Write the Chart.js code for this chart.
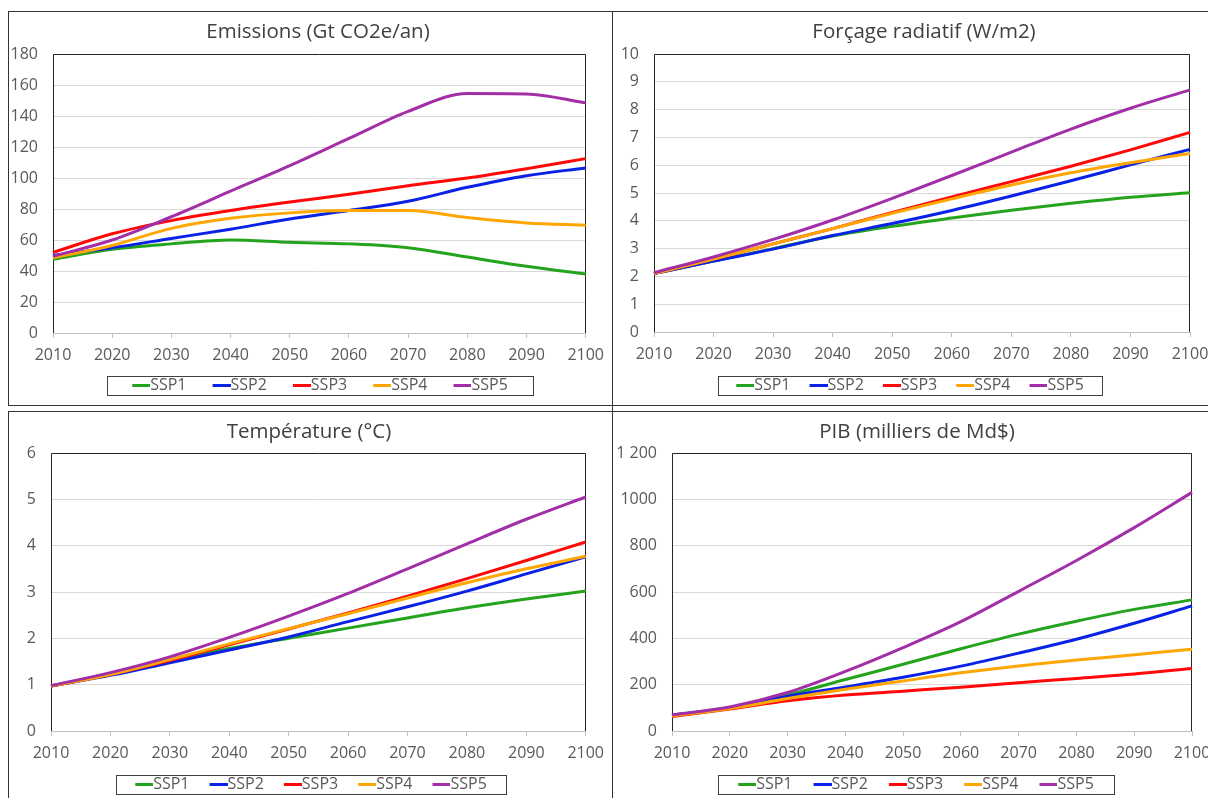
<!DOCTYPE html>
<html lang="fr">
<head>
<meta charset="utf-8">
<title>Scénarios SSP</title>
<script src="https://cdn.jsdelivr.net/npm/chart.js@4.4.1/dist/chart.umd.min.js"></script>
<style>
  html, body { margin: 0; padding: 0; background: #fff; }
  body { width: 1208px; height: 798px; overflow: hidden; position: relative; }
  .rule { position: absolute; background: #333; }
  canvas { position: absolute; }
</style>
</head>
<body>
<div class="rule" style="left:8px;top:11px;width:1200px;height:1px"></div>
<div class="rule" style="left:8px;top:405px;width:1200px;height:1px"></div>
<div class="rule" style="left:8px;top:411px;width:1200px;height:1px"></div>
<div class="rule" style="left:8px;top:11px;width:1px;height:395px"></div>
<div class="rule" style="left:8px;top:411px;width:1px;height:387px"></div>
<div class="rule" style="left:612px;top:11px;width:1px;height:787px"></div>

<canvas id="cEmissions" width="603" height="392" style="left:9px;top:12px"></canvas>
<canvas id="cForcage" width="610" height="392" style="left:614px;top:12px"></canvas>
<canvas id="cTemperature" width="603" height="392" style="left:9px;top:412px"></canvas>
<canvas id="cPib" width="610" height="392" style="left:614px;top:412px"></canvas>

<script>
// Années des scénarios
const years = ['2010', '2020', '2030', '2040', '2050', '2060', '2070', '2080', '2090', '2100'];
const seriesNames = ['SSP1', 'SSP2', 'SSP3', 'SSP4', 'SSP5'];
const seriesColors = ['#24a31d', '#0a22e6', '#ff0808', '#ffa602', '#a32fa8'];

// Emissions (Gt CO2e/an)
const emissionsSSP1 = [47.5, 54, 57.5, 60, 58.5, 57.5, 55, 49, 43, 38];
const emissionsSSP2 = [50, 55, 61, 67, 73.5, 79, 85, 94, 101.5, 106.5];
const emissionsSSP3 = [52, 64, 72.5, 79, 84.5, 89.5, 95, 100, 106, 112.5];
const emissionsSSP4 = [48.5, 56.5, 67.5, 74, 77.5, 79, 79, 74.5, 71, 69.5];
const emissionsSSP5 = [49.5, 60, 75, 91.5, 108, 125.5, 143, 154.5, 154.2, 148.5];

// Forçage radiatif (W/m2)
const forcageSSP1 = [2.1, 2.55, 3.0, 3.45, 3.8, 4.1, 4.38, 4.63, 4.85, 5.01];
const forcageSSP2 = [2.1, 2.55, 2.98, 3.47, 3.9, 4.37, 4.89, 5.44, 6.01, 6.57];
const forcageSSP3 = [2.1, 2.62, 3.17, 3.72, 4.3, 4.86, 5.41, 5.96, 6.55, 7.18];
const forcageSSP4 = [2.1, 2.62, 3.17, 3.72, 4.27, 4.79, 5.29, 5.73, 6.09, 6.42];
const forcageSSP5 = [2.13, 2.7, 3.33, 4.03, 4.81, 5.63, 6.47, 7.3, 8.05, 8.71];

// Température (°C)
const temperatureSSP1 = [0.97, 1.22, 1.5, 1.78, 2.0, 2.22, 2.44, 2.66, 2.85, 3.02];
const temperatureSSP2 = [0.97, 1.2, 1.47, 1.75, 2.03, 2.36, 2.68, 3.02, 3.39, 3.76];
const temperatureSSP3 = [0.97, 1.22, 1.52, 1.86, 2.2, 2.55, 2.91, 3.29, 3.68, 4.08];
const temperatureSSP4 = [0.97, 1.22, 1.54, 1.88, 2.21, 2.53, 2.87, 3.2, 3.5, 3.77];
const temperatureSSP5 = [0.98, 1.26, 1.6, 2.02, 2.48, 2.97, 3.5, 4.04, 4.57, 5.05];

// PIB (milliers de Md$)
const pibSSP1 = [68, 100, 155, 222, 288, 355, 418, 474, 525, 566];
const pibSSP2 = [68, 100, 150, 190, 232, 280, 336, 396, 465, 540];
const pibSSP3 = [62, 95, 130, 155, 172, 189, 208, 227, 246, 270];
const pibSSP4 = [65, 97, 140, 180, 216, 251, 281, 306, 329, 353];
const pibSSP5 = [70, 104, 166, 257, 360, 472, 603, 736, 878, 1030];

// Libellés des axes verticaux
const emissionsTicks = ['0', '20', '40', '60', '80', '100', '120', '140', '160', '180'];
const forcageTicks = ['0', '1', '2', '3', '4', '5', '6', '7', '8', '9', '10'];
const temperatureTicks = ['0', '1', '2', '3', '4', '5', '6'];
const pibTicks = ['0', '200', '400', '600', '800', '1000', '1 200'];

const FONT = "'Open Sans', 'Liberation Sans', sans-serif";
const TEXT = '#595959';
const TICK_SIZE = 16;
const TITLE_SIZE = 20.5;
const LEGEND_PAD = 10;

// Legend swatch: a short line that ends exactly where the label text begins.
// The swatch box is widened so the empty space before the line spaces the items.
function swatch(color, boxWidth) {
  const c = document.createElement('canvas');
  c.width = boxWidth + TICK_SIZE;
  c.height = 3;
  const g = c.getContext('2d');
  g.fillStyle = color;
  g.fillRect(c.width - 18, 0, 18, 3);
  return c;
}

// Moves a horizontal layout box so that its centre sits at x
function centreBox(box, x) {
  if (!box) return;
  const w = box.right - box.left;
  box.left = x - w / 2;
  box.right = box.left + w;
}

// Plot frame, title/legend placement and boxed legend
const framePlugin = {
  id: 'frame',
  afterLayout(chart, args, opts) {
    centreBox(chart.titleBlock, opts.titleX);
    centreBox(chart.legend, opts.legendX - (opts.gap - LEGEND_PAD) / 2);
  },
  beforeDatasetsDraw(chart) {
    const { ctx, chartArea: a } = chart;
    ctx.save();
    ctx.strokeStyle = '#262626';
    ctx.lineWidth = 1;
    ctx.beginPath();
    const l = Math.round(a.left) + 0.5, r = Math.round(a.right) - 0.5;
    const t = Math.round(a.top) + 0.5, b = Math.round(a.bottom);
    ctx.moveTo(l, b); ctx.lineTo(l, t); ctx.lineTo(r, t); ctx.lineTo(r, b);
    ctx.stroke();
    ctx.restore();
  },
  afterDraw(chart, args, opts) {
    const hb = chart.legend && chart.legend.legendHitBoxes;
    if (!hb || !hb.length) return;
    const first = hb[0], last = hb[hb.length - 1];
    const m = opts.gap - 1;
    const lineStart = first.left + opts.boxWidth + TICK_SIZE / 2 - 18;
    const x0 = Math.round(lineStart - m) + 0.5;
    const x1 = Math.round(last.left + last.width + m) + 0.5;
    const cy = first.top + first.height / 2;
    const y0 = Math.round(cy - 9.5) + 0.5, y1 = Math.round(cy + 9.5) + 0.5;
    const ctx = chart.ctx;
    ctx.save();
    ctx.strokeStyle = '#404040';
    ctx.lineWidth = 1;
    ctx.strokeRect(x0, y0, x1 - x0, y1 - y0);
    ctx.restore();
  }
};

function buildChart(id, p) {
  const H = 392;
  const legendHeight = TICK_SIZE + LEGEND_PAD + 10;
  const xAxisHeight = H - p.padBottom - legendHeight - p.plotBottom;
  const titleLine = TITLE_SIZE * 1.2;
  const titleTop = p.titleCentre - titleLine / 2;
  const boxWidth = p.gap - LEGEND_PAD + 18 - TICK_SIZE / 2;
  const datasets = p.series.map((values, i) => ({
    label: seriesNames[i],
    data: values,
    borderColor: seriesColors[i],
    backgroundColor: seriesColors[i],
    borderWidth: 3,
    pointRadius: 0,
    pointHoverRadius: 0,
    pointStyle: swatch(seriesColors[i], boxWidth),
    cubicInterpolationMode: 'monotone',
    fill: false,
    order: seriesNames.length - i
  }));
  return new Chart(document.getElementById(id), {
    type: 'line',
    data: { labels: years, datasets },
    plugins: [framePlugin],
    options: {
      responsive: false,
      animation: false,
      events: [],
      layout: { padding: { left: 0, top: 0, right: p.padRight, bottom: p.padBottom } },
      plugins: {
        title: {
          display: true,
          text: p.title,
          color: '#404040',
          font: { family: FONT, size: TITLE_SIZE, weight: 'normal', lineHeight: 1.2 },
          padding: { top: titleTop, bottom: p.plotTop - titleTop - titleLine }
        },
        legend: {
          display: true,
          position: 'bottom',
          fullSize: false,
          labels: {
            usePointStyle: true,
            pointStyleWidth: boxWidth,
            padding: LEGEND_PAD,
            color: TEXT,
            font: { family: FONT, size: TICK_SIZE },
            sort: (a, b) => a.datasetIndex - b.datasetIndex
          }
        },
        tooltip: { enabled: false },
        frame: { titleX: p.titleX, legendX: p.legendX, gap: p.gap, boxWidth }
      },
      scales: {
        x: {
          type: 'category',
          offset: false,
          grid: { drawOnChartArea: false, drawTicks: true, tickLength: 5, color: '#bfbfbf' },
          border: { display: true, color: '#bfbfbf', width: 1 },
          ticks: { color: TEXT, font: { family: FONT, size: TICK_SIZE }, padding: 8, maxRotation: 0, autoSkip: false },
          afterFit: (s) => { s.height = xAxisHeight; }
        },
        y: {
          min: 0,
          max: p.max,
          grid: { color: '#d9d9d9', drawTicks: false, lineWidth: 1 },
          border: { display: false },
          ticks: {
            stepSize: p.step,
            color: TEXT,
            font: { family: FONT, size: TICK_SIZE },
            padding: 15,
            callback: (v, i) => p.tickLabels[i]
          },
          afterFit: (s) => { s.width = p.plotLeft; }
        }
      }
    }
  });
}

buildChart('cEmissions', {
  title: 'Emissions (Gt CO2e/an)',
  series: [emissionsSSP1, emissionsSSP2, emissionsSSP3, emissionsSSP4, emissionsSSP5],
  tickLabels: emissionsTicks, max: 180, step: 20,
  plotLeft: 44, padRight: 25, plotTop: 42, titleCentre: 20.5, plotBottom: 321,
  padBottom: 1, gap: 26, legendX: 311, titleX: 309
});
buildChart('cForcage', {
  title: 'Forçage radiatif (W/m2)',
  series: [forcageSSP1, forcageSSP2, forcageSSP3, forcageSSP4, forcageSSP5],
  tickLabels: forcageTicks, max: 10, step: 1,
  plotLeft: 40, padRight: 34, plotTop: 42, titleCentre: 20.5, plotBottom: 320,
  padBottom: 1, gap: 19, legendX: 296, titleX: 310
});
buildChart('cTemperature', {
  title: 'Température (°C)',
  series: [temperatureSSP1, temperatureSSP2, temperatureSSP3, temperatureSSP4, temperatureSSP5],
  tickLabels: temperatureTicks, max: 6, step: 1,
  plotLeft: 42, padRight: 26, plotTop: 41, titleCentre: 20, plotBottom: 319,
  padBottom: 2, gap: 20, legendX: 302, titleX: 300
});
buildChart('cPib', {
  title: 'PIB (milliers de Md$)',
  series: [pibSSP1, pibSSP2, pibSSP3, pibSSP4, pibSSP5],
  tickLabels: pibTicks, max: 1200, step: 200,
  plotLeft: 58, padRight: 32, plotTop: 41, titleCentre: 20, plotBottom: 319,
  padBottom: 2, gap: 21, legendX: 302, titleX: 303
});
</script>
</body>
</html>
